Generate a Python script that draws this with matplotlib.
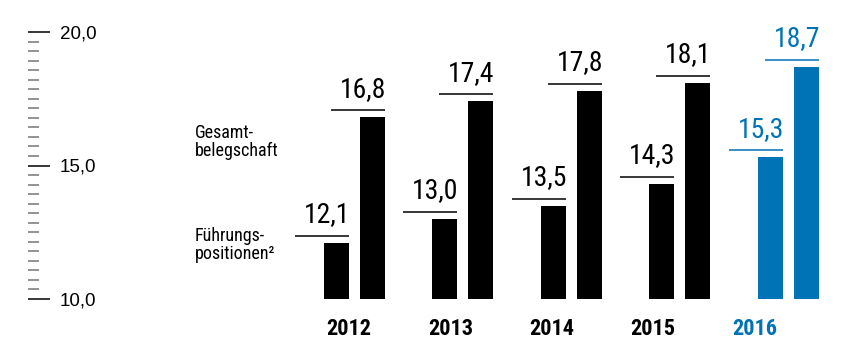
"""
Frauenanteil: Führungspositionen vs. Gesamtbelegschaft, 2012-2016
"""

import numpy as np
import matplotlib
matplotlib.use("Agg")
import matplotlib.pyplot as plt
from matplotlib.ticker import FixedLocator, FixedFormatter
from matplotlib.transforms import ScaledTranslation

plt.rcParams["font.family"] = ["Roboto Condensed", "DejaVu Sans"]

# Data
years = ["2012", "2013", "2014", "2015", "2016"]
fuehrung = [12.1, 13.0, 13.5, 14.3, 15.3]
gesamt = [16.8, 17.4, 17.8, 18.1, 18.7]
y_ticks = [10.0, 15.0, 20.0]
y_tick_labels = ["10,0", "15,0", "20,0"]

BLACK = "#000000"
BLUE = "#0073b7"
GRAY = "#8a8a8a"

# one colour per year; the current year is highlighted
colors = [BLACK] * (len(years) - 1) + [BLUE]

fig = plt.figure(figsize=(8.42, 3.41), dpi=100)
W, H = 842, 341
base_px = 42       # pixel height of the 10,0 baseline from the bottom
px_per_unit = 26.7
y_min, y_max = 10.0, 21.0
ax = fig.add_axes([28 / W, base_px / H, (W - 28) / W, (y_max - y_min) * px_per_unit / H])

x = np.arange(len(years))
bar_w = 0.23
offset = 0.166

ax.bar(x - offset, [v - y_min for v in fuehrung], bottom=y_min, width=bar_w, color=colors)
ax.bar(x + offset, [v - y_min for v in gesamt], bottom=y_min, width=bar_w, color=colors)

ax.set_xlim(-3.007, 4.495)
ax.set_ylim(y_min, y_max)

# value labels with a short leader line above each bar
line_shift = ScaledTranslation(0, 7 / 100, fig.dpi_scale_trans)
line_len = 54 / 108.5
for i, (f, g) in enumerate(zip(fuehrung, gesamt)):
    for xc, v in ((x[i] - offset, f), (x[i] + offset, g)):
        right = xc + bar_w / 2
        ax.plot([right - line_len, right], [v, v], color=colors[i], lw=1.1,
                solid_capstyle="butt", transform=ax.transData + line_shift,
                clip_on=False)
        ax.annotate(f"{v:.1f}".replace(".", ","), xy=(right, v),
                    xytext=(1, 15), textcoords="offset points",
                    ha="right", va="baseline", fontsize=20, color=colors[i])

# year labels under the groups
for i, yr in enumerate(years):
    ax.text(x[i] * 0.935 - 0.05, y_min, yr, ha="center", va="baseline",
            fontsize=16, fontweight="bold", color=colors[i],
            transform=ax.transData + ScaledTranslation(0, -36 / 100, fig.dpi_scale_trans))

# series labels on the left of the first group
fig.text(195 / W, 1 - 124 / H, "Gesamt-\nbelegschaft", ha="left", va="top",
         fontsize=13, linespacing=1.0)
fig.text(195 / W, 1 - 227 / H, "Führungs-\npositionen²", ha="left", va="top",
         fontsize=13, linespacing=1.0)

# y axis: only tick marks, no spine
for side in ("left", "right", "top", "bottom"):
    ax.spines[side].set_visible(False)
ax.yaxis.set_major_locator(FixedLocator(y_ticks))
ax.yaxis.set_major_formatter(FixedFormatter(y_tick_labels))
minor = [v for v in np.linspace(10, 20, 29) if v not in y_ticks]
ax.yaxis.set_minor_locator(FixedLocator(minor))
ax.tick_params(axis="y", which="major", direction="in", length=16, width=1.1,
               color=BLACK, pad=-23, labelsize=13.5)
ax.tick_params(axis="y", which="minor", direction="in", length=8, width=1.3,
               color=GRAY)
for lbl in ax.get_yticklabels():
    lbl.set_horizontalalignment("left")
    lbl.set_fontfamily(["Liberation Sans", "DejaVu Sans"])
ax.set_xticks([])
ax.patch.set_visible(False)

fig.savefig("out.png", dpi=100)
